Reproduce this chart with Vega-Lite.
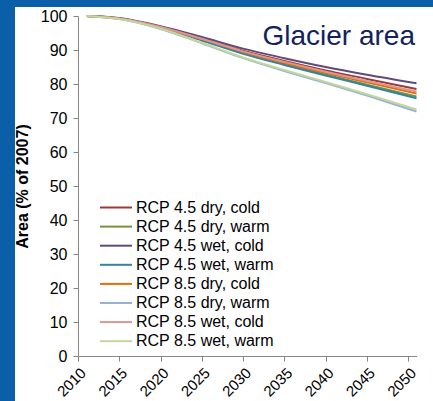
{
  "$schema": "https://vega.github.io/schema/vega-lite/v6.json",
  "background": "#0b5fa9",
  "autosize": {"type": "none"},
  "padding": {"left": 15, "top": 7, "right": 0, "bottom": 0},
  "width": 418,
  "height": 394,
  "config": {
    "view": {"fill": "white", "stroke": null},
    "font": "Liberation Sans",
    "axis": {"domainColor": "#868686", "tickColor": "#868686", "labelColor": "#000000", "labelFont": "Liberation Sans", "titleFont": "Liberation Sans", "grid": false, "labelFontSize": 15, "tickSize": 5}
  },
  "title": {"text": "Glacier area", "anchor": "end", "frame": "group", "offset": -66, "fontSize": 28, "fontWeight": "normal", "color": "#13215f", "baseline": "alphabetic", "dx": -18, "font": "Liberation Sans"},
  "data": {"values": [
    {"scenario": "RCP 4.5 dry, cold", "year": 2011, "area": 100}, {"scenario": "RCP 4.5 dry, cold", "year": 2015, "area": 99.3}, {"scenario": "RCP 4.5 dry, cold", "year": 2020, "area": 96.8}, {"scenario": "RCP 4.5 dry, cold", "year": 2025, "area": 93.4}, {"scenario": "RCP 4.5 dry, cold", "year": 2030, "area": 89.8}, {"scenario": "RCP 4.5 dry, cold", "year": 2035, "area": 86.8}, {"scenario": "RCP 4.5 dry, cold", "year": 2040, "area": 84.0}, {"scenario": "RCP 4.5 dry, cold", "year": 2045, "area": 81.5}, {"scenario": "RCP 4.5 dry, cold", "year": 2051, "area": 78.5},
    {"scenario": "RCP 4.5 dry, warm", "year": 2011, "area": 100}, {"scenario": "RCP 4.5 dry, warm", "year": 2015, "area": 99.3}, {"scenario": "RCP 4.5 dry, warm", "year": 2020, "area": 96.6}, {"scenario": "RCP 4.5 dry, warm", "year": 2025, "area": 93.0}, {"scenario": "RCP 4.5 dry, warm", "year": 2030, "area": 89.1}, {"scenario": "RCP 4.5 dry, warm", "year": 2035, "area": 85.8}, {"scenario": "RCP 4.5 dry, warm", "year": 2040, "area": 82.8}, {"scenario": "RCP 4.5 dry, warm", "year": 2045, "area": 79.8}, {"scenario": "RCP 4.5 dry, warm", "year": 2051, "area": 76.3},
    {"scenario": "RCP 4.5 wet, cold", "year": 2011, "area": 100}, {"scenario": "RCP 4.5 wet, cold", "year": 2015, "area": 99.4}, {"scenario": "RCP 4.5 wet, cold", "year": 2020, "area": 97.0}, {"scenario": "RCP 4.5 wet, cold", "year": 2025, "area": 93.8}, {"scenario": "RCP 4.5 wet, cold", "year": 2030, "area": 90.4}, {"scenario": "RCP 4.5 wet, cold", "year": 2035, "area": 87.6}, {"scenario": "RCP 4.5 wet, cold", "year": 2040, "area": 85.0}, {"scenario": "RCP 4.5 wet, cold", "year": 2045, "area": 82.7}, {"scenario": "RCP 4.5 wet, cold", "year": 2051, "area": 80.2},
    {"scenario": "RCP 4.5 wet, warm", "year": 2011, "area": 100}, {"scenario": "RCP 4.5 wet, warm", "year": 2015, "area": 99.2}, {"scenario": "RCP 4.5 wet, warm", "year": 2020, "area": 96.6}, {"scenario": "RCP 4.5 wet, warm", "year": 2025, "area": 92.8}, {"scenario": "RCP 4.5 wet, warm", "year": 2030, "area": 88.9}, {"scenario": "RCP 4.5 wet, warm", "year": 2035, "area": 85.6}, {"scenario": "RCP 4.5 wet, warm", "year": 2040, "area": 82.5}, {"scenario": "RCP 4.5 wet, warm", "year": 2045, "area": 79.5}, {"scenario": "RCP 4.5 wet, warm", "year": 2051, "area": 75.8},
    {"scenario": "RCP 8.5 dry, cold", "year": 2011, "area": 100}, {"scenario": "RCP 8.5 dry, cold", "year": 2015, "area": 99.3}, {"scenario": "RCP 8.5 dry, cold", "year": 2020, "area": 96.7}, {"scenario": "RCP 8.5 dry, cold", "year": 2025, "area": 93.2}, {"scenario": "RCP 8.5 dry, cold", "year": 2030, "area": 89.4}, {"scenario": "RCP 8.5 dry, cold", "year": 2035, "area": 86.2}, {"scenario": "RCP 8.5 dry, cold", "year": 2040, "area": 83.3}, {"scenario": "RCP 8.5 dry, cold", "year": 2045, "area": 80.5}, {"scenario": "RCP 8.5 dry, cold", "year": 2051, "area": 77.2},
    {"scenario": "RCP 8.5 dry, warm", "year": 2011, "area": 100}, {"scenario": "RCP 8.5 dry, warm", "year": 2015, "area": 99.1}, {"scenario": "RCP 8.5 dry, warm", "year": 2020, "area": 96.2}, {"scenario": "RCP 8.5 dry, warm", "year": 2025, "area": 92.0}, {"scenario": "RCP 8.5 dry, warm", "year": 2030, "area": 87.6}, {"scenario": "RCP 8.5 dry, warm", "year": 2035, "area": 83.8}, {"scenario": "RCP 8.5 dry, warm", "year": 2040, "area": 80.3}, {"scenario": "RCP 8.5 dry, warm", "year": 2045, "area": 76.6}, {"scenario": "RCP 8.5 dry, warm", "year": 2051, "area": 71.9},
    {"scenario": "RCP 8.5 wet, cold", "year": 2011, "area": 100}, {"scenario": "RCP 8.5 wet, cold", "year": 2015, "area": 99.3}, {"scenario": "RCP 8.5 wet, cold", "year": 2020, "area": 96.8}, {"scenario": "RCP 8.5 wet, cold", "year": 2025, "area": 93.3}, {"scenario": "RCP 8.5 wet, cold", "year": 2030, "area": 89.6}, {"scenario": "RCP 8.5 wet, cold", "year": 2035, "area": 86.5}, {"scenario": "RCP 8.5 wet, cold", "year": 2040, "area": 83.6}, {"scenario": "RCP 8.5 wet, cold", "year": 2045, "area": 80.9}, {"scenario": "RCP 8.5 wet, cold", "year": 2051, "area": 77.8},
    {"scenario": "RCP 8.5 wet, warm", "year": 2011, "area": 100}, {"scenario": "RCP 8.5 wet, warm", "year": 2015, "area": 99.1}, {"scenario": "RCP 8.5 wet, warm", "year": 2020, "area": 96.3}, {"scenario": "RCP 8.5 wet, warm", "year": 2025, "area": 92.1}, {"scenario": "RCP 8.5 wet, warm", "year": 2030, "area": 87.8}, {"scenario": "RCP 8.5 wet, warm", "year": 2035, "area": 84.1}, {"scenario": "RCP 8.5 wet, warm", "year": 2040, "area": 80.6}, {"scenario": "RCP 8.5 wet, warm", "year": 2045, "area": 77.0}, {"scenario": "RCP 8.5 wet, warm", "year": 2051, "area": 72.5}
  ]},
  "mark": {"type": "line", "interpolate": "monotone", "strokeWidth": 2},
  "encoding": {
    "x": {"field": "year", "type": "quantitative",
          "scale": {"domain": [2010, 2051], "nice": false, "zero": false, "range": [63, 401.5]},
          "axis": {"values": [2010, 2015, 2020, 2025, 2030, 2035, 2040, 2045, 2050], "format": "d", "labelAngle": -45, "title": null, "labelPadding": 4, "offset": -45}},
    "y": {"field": "area", "type": "quantitative",
          "scale": {"domain": [0, 100], "nice": false, "range": [349, 9]},
          "axis": {"values": [0, 10, 20, 30, 40, 50, 60, 70, 80, 90, 100], "title": "Area (% of 2007)", "titleFontWeight": "bold", "titleFontSize": 16, "titleColor": "#000000", "titlePadding": 10, "labelPadding": 6, "labelFontSize": 16, "offset": -63}},
    "color": {"field": "scenario", "type": "nominal",
              "scale": {"domain": ["RCP 4.5 dry, cold", "RCP 4.5 dry, warm", "RCP 4.5 wet, cold", "RCP 4.5 wet, warm", "RCP 8.5 dry, cold", "RCP 8.5 dry, warm", "RCP 8.5 wet, cold", "RCP 8.5 wet, warm"],
                        "range": ["#9b3b39", "#77933c", "#604a7b", "#31859c", "#e46c0a", "#95b3d7", "#d99694", "#c3d69b"]},
              "legend": {"orient": "none", "legendX": 92, "legendY": 191.5, "title": null, "symbolType": "M-2,0H2", "symbolSize": 256, "symbolStrokeWidth": 2, "labelFontSize": 16, "labelFont": "Liberation Sans", "labelColor": "#000000", "labelOffset": 11, "rowPadding": 2.1, "padding": 0}}
  }
}
